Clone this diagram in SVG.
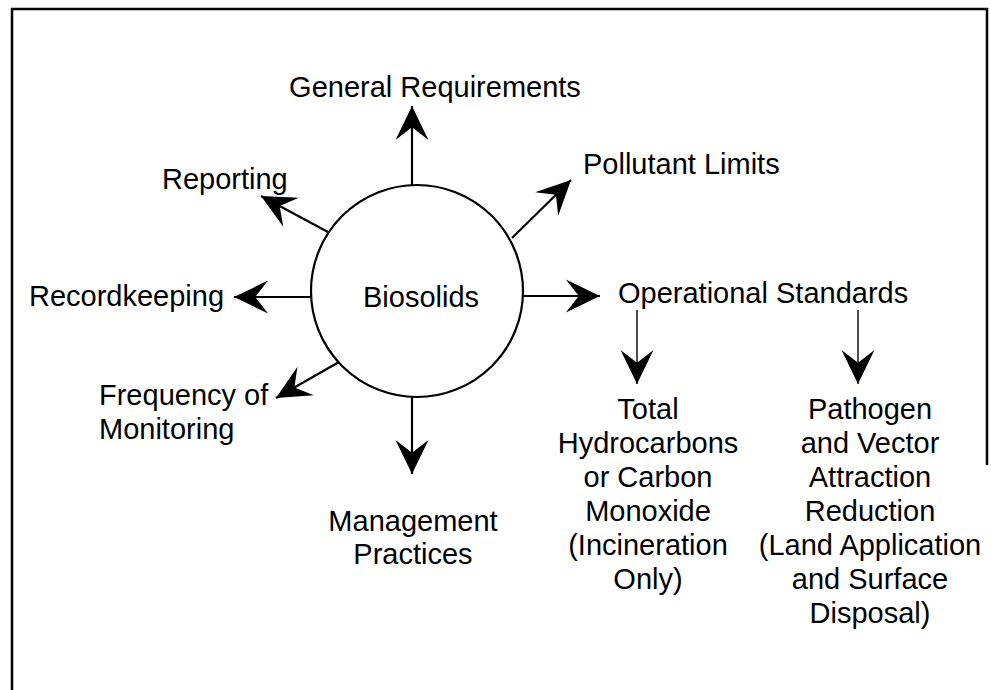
<svg xmlns="http://www.w3.org/2000/svg" width="991" height="690" viewBox="0 0 991 690">
<style>
text{font-family:"Liberation Sans",Arial,Helvetica,sans-serif;font-size:29px;fill:#000}
.c{text-anchor:middle}
.l{stroke:#000;stroke-width:2.2;fill:none}
.t{stroke:#000;stroke-width:1.4;fill:none}
</style>
<defs>
<marker id="ah" markerUnits="userSpaceOnUse" markerWidth="40" markerHeight="40" viewBox="-32 -16 34 32" refX="0" refY="0" orient="auto">
<path d="M0,0 L-29,-14 L-18,0 L-29,14 Z" fill="#000"/>
</marker>
</defs>
<rect width="991" height="690" fill="#fff"/>
<path d="M12,690 V9 H987 V465" fill="none" stroke="#000" stroke-width="2.5"/>
<g id="connectors">
<line class="l" x1="412" y1="186" x2="412" y2="106" marker-end="url(#ah)"/>
<line class="l" x1="512" y1="238" x2="571" y2="180" marker-end="url(#ah)"/>
<line class="l" x1="523" y1="296" x2="600" y2="296" marker-end="url(#ah)"/>
<line class="l" x1="328" y1="232" x2="261" y2="196" marker-end="url(#ah)"/>
<line class="l" x1="311" y1="297" x2="234" y2="297" marker-end="url(#ah)"/>
<line class="l" x1="339" y1="362" x2="276" y2="398" marker-end="url(#ah)"/>
<line class="l" x1="412" y1="397" x2="412" y2="474" marker-end="url(#ah)"/>
<line class="t" x1="637" y1="310" x2="637" y2="384" marker-end="url(#ah)"/>
<line class="t" x1="858" y1="310" x2="858" y2="384" marker-end="url(#ah)"/>
</g>
<g id="biosolids">
<circle cx="417" cy="291" r="106" fill="#fff" stroke="#000" stroke-width="2.2"/>
<text class="c" x="421" y="307">Biosolids</text>
</g>
<g id="general-requirements"><text class="c" x="435" y="97">General Requirements</text></g>
<g id="pollutant-limits"><text x="583" y="174">Pollutant Limits</text></g>
<g id="operational-standards"><text x="618" y="303">Operational Standards</text></g>
<g id="reporting"><text x="162" y="189">Reporting</text></g>
<g id="recordkeeping"><text x="29" y="306">Recordkeeping</text></g>
<g id="frequency-of-monitoring"><text x="99" y="405">Frequency of</text><text x="99" y="439">Monitoring</text></g>
<g id="management-practices"><text class="c" x="413" y="531">Management</text><text class="c" x="413" y="564">Practices</text></g>
<g id="total-hydrocarbons">
<text class="c" x="648" y="419">Total</text>
<text class="c" x="648" y="453">Hydrocarbons</text>
<text class="c" x="648" y="487">or Carbon</text>
<text class="c" x="648" y="521">Monoxide</text>
<text class="c" x="648" y="555">(Incineration</text>
<text class="c" x="648" y="589">Only)</text>
</g>
<g id="pathogen-vector">
<text class="c" x="870" y="419">Pathogen</text>
<text class="c" x="870" y="453">and Vector</text>
<text class="c" x="870" y="487">Attraction</text>
<text class="c" x="870" y="521">Reduction</text>
<text class="c" x="870" y="555">(Land Application</text>
<text class="c" x="870" y="589">and Surface</text>
<text class="c" x="870" y="623">Disposal)</text>
</g>
</svg>
